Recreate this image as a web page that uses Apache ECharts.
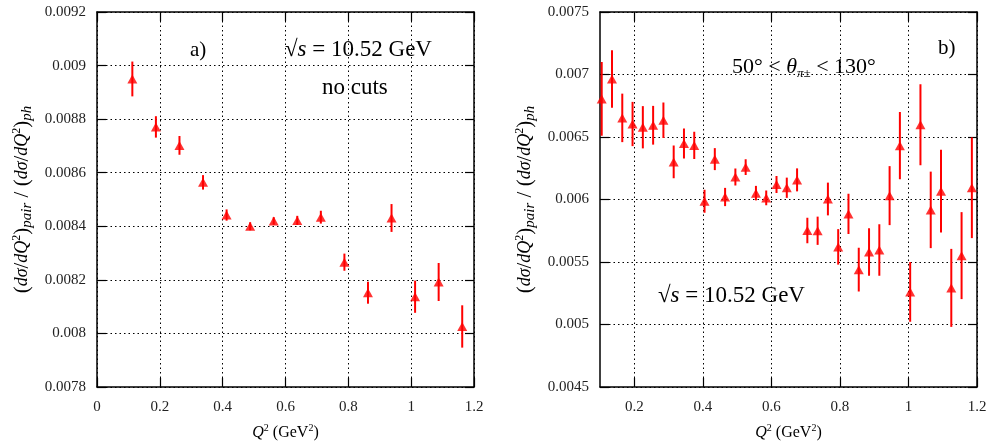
<!DOCTYPE html>
<html>
<head>
<meta charset="utf-8">
<script src="https://cdn.jsdelivr.net/npm/echarts@6/dist/echarts.min.js"></script>
<style>
  html, body { margin: 0; padding: 0; background: #fff; }
  #chart { width: 996px; height: 446px; }
</style>
</head>
<body>
<div id="chart"></div>
<script>
// Panel a): no cuts
const q2A = [0.1125, 0.1875, 0.2625, 0.3375, 0.4125, 0.4875, 0.5625, 0.6375,
             0.7125, 0.7875, 0.8625, 0.9375, 1.0125, 1.0875, 1.1625];
const ratioA = [0.008950, 0.008771, 0.008702, 0.008564, 0.008442, 0.008400, 0.008420, 0.008422,
                0.008434, 0.008266, 0.008152, 0.008431, 0.008137, 0.008192, 0.008026];
const errA = [0.000065, 0.000040, 0.000035, 0.000027, 0.000021, 0.000015, 0.000014, 0.000017,
              0.000024, 0.000032, 0.000041, 0.000052, 0.000060, 0.000071, 0.000079];

// Panel b): 50° < θ < 130°
const q2B = [0.105, 0.135, 0.165, 0.195, 0.225, 0.255, 0.285, 0.315, 0.345, 0.375,
             0.405, 0.435, 0.465, 0.495, 0.525, 0.555, 0.585, 0.615, 0.645, 0.675,
             0.705, 0.735, 0.765, 0.795, 0.825, 0.855, 0.885, 0.915, 0.945, 0.975,
             1.005, 1.035, 1.065, 1.095, 1.125, 1.155, 1.185];
const ratioB = [0.006805, 0.006964, 0.006653, 0.006604, 0.006578, 0.006594, 0.006634, 0.006301, 0.006448, 0.006433,
                0.005986, 0.006323, 0.006020, 0.006180, 0.006259, 0.006051, 0.006013, 0.006120, 0.006094, 0.006157,
                0.005752, 0.005750, 0.006004, 0.005621, 0.005885, 0.005439, 0.005580, 0.005596, 0.006031, 0.006431,
                0.005261, 0.006598, 0.005917, 0.006067, 0.005293, 0.005551, 0.006094];
const errB = [0.000295, 0.000230, 0.000194, 0.000177, 0.000169, 0.000155, 0.000142, 0.000131, 0.000120, 0.000109,
              0.000092, 0.000088, 0.000073, 0.000068, 0.000063, 0.000058, 0.000059, 0.000068, 0.000081, 0.000092,
              0.000102, 0.000113, 0.000131, 0.000142, 0.000161, 0.000175, 0.000190, 0.000206, 0.000236, 0.000269,
              0.000239, 0.000324, 0.000306, 0.000331, 0.000312, 0.000348, 0.000403];

const xTicksB = [0.2, 0.4, 0.6, 0.8, 1, 1.2];

const FONT = 'Liberation Serif';
const RED = '#ff0000';

function pairs(xs, ys) { return xs.map((x, i) => [x, ys[i]]); }
function errRows(xs, ys, es) { return xs.map((x, i) => [x, ys[i] - es[i], ys[i] + es[i]]); }

const yName = '{p|(}{f|dσ}{p|/}{f|dQ}{sup|2}{p|)}{s|pair}{p| / (}{f|dσ}{p|/}{f|dQ}{sup|2}{p|)}{s|ph}';
const yNameRich = {
  p: { fontFamily: FONT, fontSize: 21, color: '#000', lineHeight: 26, verticalAlign: 'middle' },
  f: { fontFamily: FONT, fontSize: 18, fontStyle: 'italic', color: '#000', lineHeight: 26, verticalAlign: 'middle' },
  sup: { fontFamily: FONT, fontSize: 12, color: '#000', lineHeight: 26, verticalAlign: 'top', padding: [2, 0, 0, 0] },
  s: { fontFamily: FONT, fontSize: 15, fontStyle: 'italic', color: '#000', lineHeight: 26, verticalAlign: 'bottom' }
};
const xName = '{q|Q}{sup|2}{t| (GeV}{sup|2}{t|)}';
const xNameRich = {
  q: { fontFamily: FONT, fontSize: 16, fontStyle: 'italic', color: '#000', lineHeight: 20, verticalAlign: 'middle' },
  t: { fontFamily: FONT, fontSize: 16, color: '#000', lineHeight: 20, verticalAlign: 'middle' },
  sup: { fontFamily: FONT, fontSize: 10, color: '#000', lineHeight: 20, verticalAlign: 'top' }
};

const gridLine = { show: true, lineStyle: { color: '#000', type: [1.5, 3], width: 1 } };
const tickLabel = { fontFamily: FONT, fontSize: 15, color: '#222' };

function mainX(gridIndex, min, max, extra) {
  return Object.assign({
    type: 'value', gridIndex, min, max, position: 'bottom',
    axisLine: { show: true, onZero: false, lineStyle: { color: '#000', width: 1.5 } },
    axisTick: { show: true, inside: true, length: 9, lineStyle: { color: '#000', width: 1.2 } },
    axisLabel: Object.assign({ margin: 13 }, tickLabel),
    splitLine: gridLine,
    name: xName, nameLocation: 'middle', nameGap: 36,
    nameTextStyle: { rich: xNameRich }
  }, extra || {});
}
function topX(gridIndex, min, max, extra) {
  return Object.assign({
    type: 'value', gridIndex, min, max, position: 'top',
    axisLine: { show: true, onZero: false, lineStyle: { color: '#000', width: 1.5 } },
    axisTick: { show: true, inside: true, length: 9, lineStyle: { color: '#000', width: 1.2 } },
    axisLabel: { show: false }, splitLine: { show: false }
  }, extra || {});
}
function mainY(gridIndex, min, max, interval, nameGap) {
  return {
    type: 'value', gridIndex, min, max, interval, position: 'left',
    axisLine: { show: true, onZero: false, lineStyle: { color: '#000', width: 1.5 } },
    axisTick: { show: true, inside: true, length: 9, lineStyle: { color: '#000', width: 1.2 } },
    axisLabel: Object.assign({ margin: 11 }, tickLabel),
    splitLine: gridLine,
    name: yName, nameLocation: 'middle', nameGap,
    nameTextStyle: { rich: yNameRich }
  };
}
function rightY(gridIndex, min, max, interval) {
  return {
    type: 'value', gridIndex, min, max, interval, position: 'right',
    axisLine: { show: true, onZero: false, lineStyle: { color: '#000', width: 1.5 } },
    axisTick: { show: true, inside: true, length: 9, lineStyle: { color: '#000', width: 1.2 } },
    axisLabel: { show: false }, splitLine: { show: false }
  };
}

function errorSeries(xAxisIndex, yAxisIndex, rows) {
  return {
    type: 'custom', xAxisIndex, yAxisIndex, data: rows, silent: true, z: 3,
    encode: { x: 0, y: [1, 2] },
    renderItem(params, api) {
      const lo = api.coord([api.value(0), api.value(1)]);
      const hi = api.coord([api.value(0), api.value(2)]);
      return {
        type: 'line',
        shape: { x1: lo[0], y1: lo[1], x2: hi[0], y2: hi[1] },
        style: { stroke: RED, lineWidth: 2 }
      };
    }
  };
}
function pointSeries(xAxisIndex, yAxisIndex, pts) {
  return {
    type: 'scatter', xAxisIndex, yAxisIndex, data: pts, z: 4,
    symbol: 'triangle', symbolSize: [10, 9],
    itemStyle: { color: RED }, silent: true
  };
}

const energyRich = {
  r: { fontFamily: FONT, fontSize: 23, fill: '#000' },
  i: { fontFamily: FONT, fontSize: 23, fontStyle: 'italic', fill: '#000' },
  n: { fontFamily: FONT, fontSize: 23, fill: '#000' }
};
const txt = (left, top, text, size) => ({
  type: 'text', left, top,
  style: { text, fontFamily: FONT, fontSize: size, fill: '#000' }
});

const option = {
  backgroundColor: '#fff',
  animation: false,
  grid: [
    { left: 97, right: 522, top: 12, bottom: 51, containLabel: false },
    { left: 600, right: 19, top: 12, bottom: 52, containLabel: false }
  ],
  xAxis: [
    mainX(0, 0, 1.2, { interval: 0.2 }),
    topX(0, 0, 1.2, { interval: 0.2 }),
    mainX(1, 0.1, 1.2, {
      axisTick: { show: true, inside: true, length: 9, customValues: xTicksB, lineStyle: { color: '#000', width: 1.2 } },
      axisLabel: Object.assign({ margin: 13, customValues: xTicksB }, tickLabel)
    }),
    topX(1, 0.1, 1.2, {
      axisTick: { show: true, inside: true, length: 9, customValues: xTicksB, lineStyle: { color: '#000', width: 1.2 } }
    })
  ],
  yAxis: [
    mainY(0, 0.0078, 0.0092, 0.0002, 62),
    rightY(0, 0.0078, 0.0092, 0.0002),
    mainY(1, 0.0045, 0.0075, 0.0005, 62),
    rightY(1, 0.0045, 0.0075, 0.0005)
  ],
  series: [
    errorSeries(0, 0, errRows(q2A, ratioA, errA)),
    pointSeries(0, 0, pairs(q2A, ratioA)),
    errorSeries(2, 2, errRows(q2B, ratioB, errB)),
    pointSeries(2, 2, pairs(q2B, ratioB))
  ],
  graphic: [
    txt(190, 40, 'a)', 21),
    { type: 'text', left: 285, top: 38, style: { text: '{r|√}{i|s}{n| = 10.52 GeV}', rich: energyRich } },
    txt(322, 76, 'no cuts', 23),
    txt(938, 38, 'b)', 21),
    {
      type: 'text', left: 732, top: 56,
      style: {
        text: '{n|50° < }{i|θ}{s|π±}{n| < 130°}',
        rich: {
          n: { fontFamily: FONT, fontSize: 22, fill: '#000', verticalAlign: 'middle', lineHeight: 26 },
          i: { fontFamily: FONT, fontSize: 22, fontStyle: 'italic', fill: '#000', verticalAlign: 'middle', lineHeight: 26 },
          s: { fontFamily: FONT, fontSize: 13, fontStyle: 'italic', fill: '#000', verticalAlign: 'bottom', lineHeight: 26 }
        }
      }
    },
    { type: 'text', left: 658, top: 284, style: { text: '{r|√}{i|s}{n| = 10.52 GeV}', rich: energyRich } }
  ]
};

const chart = echarts.init(document.getElementById('chart'), null, { renderer: 'canvas' });
chart.setOption(option);
</script>
</body>
</html>
